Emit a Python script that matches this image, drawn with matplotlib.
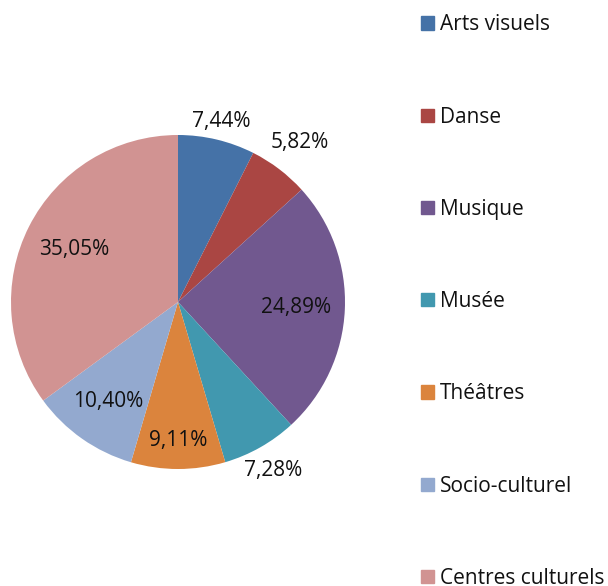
import matplotlib
matplotlib.use("Agg")
import matplotlib.pyplot as plt
import numpy as np

categories = ["Arts visuels", "Danse", "Musique", "Musée", "Théâtres",
              "Socio-culturel", "Centres culturels"]
values = [7.44, 5.82, 24.89, 7.28, 9.11, 10.40, 35.05]
labels = ["7,44%", "5,82%", "24,89%", "7,28%", "9,11%", "10,40%", "35,05%"]
colors = ["#4572A7", "#AA4643", "#71588F", "#4198AF", "#DB843D",
          "#93A9CF", "#D19392"]

# layout: radial distance of each label (fraction of radius)
label_r = [1.11, 1.20, 0.71, 1.16, 0.83, 0.73, 0.70]

plt.rcParams['font.family'] = ['Open Sans', 'DejaVu Sans']
FS = 15

fig = plt.figure(figsize=(6.08, 5.86), dpi=100)
ax = fig.add_axes([11/608, (586-302-167)/586, 334/608, 334/586])
wedges, _ = ax.pie(values, colors=colors, startangle=90, counterclock=False,
                   radius=1.0, wedgeprops=dict(linewidth=0))
ax.set_xlim(-1, 1)
ax.set_ylim(-1, 1)
ax.set_aspect('equal')

for w, lab, r in zip(wedges, labels, label_r):
    ang = np.deg2rad((w.theta1 + w.theta2) / 2)
    ax.text(r*np.cos(ang), r*np.sin(ang), lab, ha='center', va='center',
            fontsize=FS, color='#111111')

handles = [plt.Rectangle((0, 0), 1, 1, color=c) for c in colors]
fig.legend(handles, categories, loc='upper left', bbox_to_anchor=(413/608, 1.0 - 6/586),
           frameon=False, fontsize=FS, labelspacing=3.42, handlelength=0.6,
           handleheight=0.6, handletextpad=0.3, borderaxespad=0,
           labelcolor='#111111')

fig.savefig("out.png", dpi=100)
